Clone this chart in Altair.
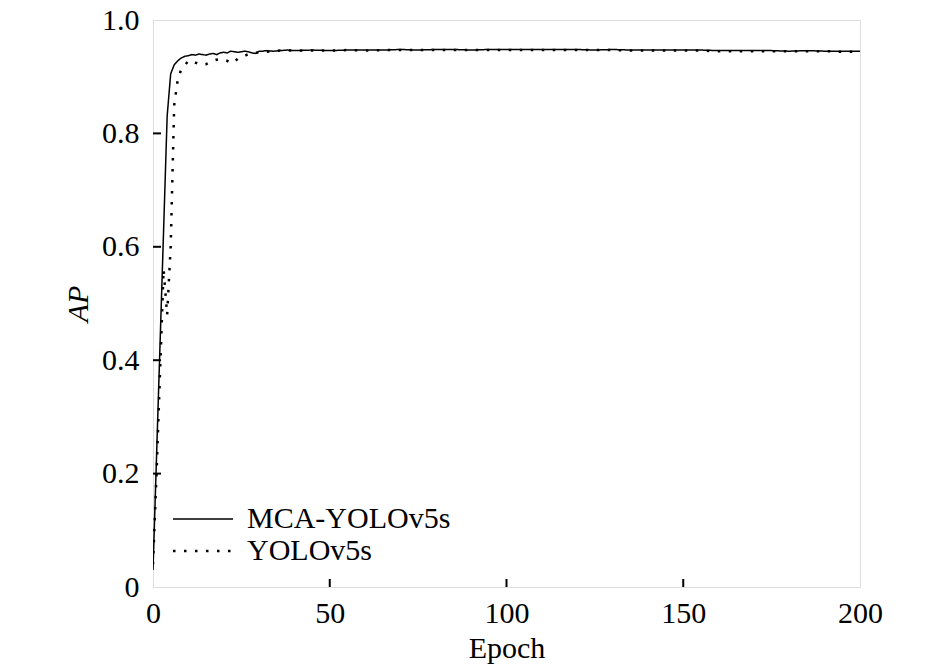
import altair as alt
import pandas as pd

names = ["MCA-YOLOv5s", "YOLOv5s"]

mca_epoch = [0, 1, 2, 3, 4, 5, 6, 7, 8, 9, 10, 11, 12, 13, 14, 15, 16, 17, 18, 19,
             20, 21, 22, 23, 24, 25, 26, 27, 28, 29, 30, 31, 32, 34, 36, 38, 40, 45,
             50, 55, 60, 65, 70, 75, 80, 85, 90, 95, 100, 105, 110, 115, 120, 125,
             130, 135, 140, 145, 150, 155, 160, 165, 170, 175, 180, 185, 190, 195, 200]
mca_ap = [0.03, 0.23, 0.43, 0.63, 0.83, 0.905, 0.921, 0.928, 0.933, 0.936, 0.937, 0.939,
          0.938, 0.940, 0.939, 0.938, 0.940, 0.941, 0.939, 0.942, 0.943, 0.942, 0.945,
          0.944, 0.943, 0.944, 0.945, 0.944, 0.942, 0.941, 0.945, 0.945, 0.946, 0.945,
          0.946, 0.947, 0.946, 0.947, 0.946, 0.947, 0.947, 0.947, 0.948, 0.947, 0.948,
          0.948, 0.947, 0.948, 0.948, 0.948, 0.948, 0.948, 0.948, 0.947, 0.948, 0.947,
          0.947, 0.947, 0.947, 0.947, 0.946, 0.946, 0.946, 0.946, 0.945, 0.946, 0.945,
          0.945, 0.945]

yolo_epoch = [0, 1, 2, 3, 4, 5, 6, 7, 8, 9, 10, 11, 12, 13, 14, 15, 16, 17, 18, 19,
              20, 21, 22, 23, 24, 25, 26, 27, 28, 29, 30, 32, 34, 36, 38, 40, 45,
              50, 55, 60, 65, 70, 75, 80, 85, 90, 95, 100, 105, 110, 115, 120, 125,
              130, 135, 140, 145, 150, 155, 160, 165, 170, 175, 180, 185, 190, 195, 200]
yolo_ap = [0.04, 0.20, 0.38, 0.56, 0.48, 0.60, 0.85, 0.895, 0.913, 0.920, 0.928, 0.928,
           0.925, 0.922, 0.921, 0.922, 0.925, 0.928, 0.930, 0.931, 0.930, 0.928, 0.924,
           0.926, 0.932, 0.935, 0.937, 0.940, 0.941, 0.942, 0.943, 0.944, 0.945, 0.946,
           0.946, 0.946, 0.946, 0.946, 0.947, 0.946, 0.947, 0.947, 0.947, 0.947, 0.947,
           0.947, 0.947, 0.947, 0.947, 0.947, 0.947, 0.947, 0.947, 0.947, 0.946, 0.946,
           0.946, 0.946, 0.946, 0.945, 0.945, 0.945, 0.945, 0.945, 0.945, 0.945, 0.944,
           0.944]

x_ticks = [0, 50, 100, 150, 200]
y_ticks = [0, 0.2, 0.4, 0.6, 0.8, 1.0]

df = pd.concat([
    pd.DataFrame({"Epoch": mca_epoch, "AP": mca_ap, "model": names[0]}),
    pd.DataFrame({"Epoch": yolo_epoch, "AP": yolo_ap, "model": names[1]}),
])

FONT = "Liberation Serif"
W, H = 707, 567

xscale = alt.Scale(domain=[0, 200], nice=False)
yscale = alt.Scale(domain=[0, 1], nice=False)

legend_kw = dict(title=None, orient="none", legendX=35, legendY=484,
                 symbolType="M-3,0H3", symbolSize=400,
                 symbolStrokeColor="black",
                 labelFont=FONT, labelFontSize=30, labelLimit=500,
                 labelColor="black", labelOffset=29,
                 padding=0, rowPadding=2)

lines = alt.Chart(df).mark_line(color="black", strokeCap="butt", clip=True).encode(
    x=alt.X("Epoch:Q", scale=xscale,
            axis=alt.Axis(values=x_ticks, ticks=False, domain=False, grid=False,
                          labelFont=FONT, labelFontSize=30, labelColor="black",
                          labelPadding=11, labelFlush=False,
                          title="Epoch", titleFont=FONT, titleFontSize=30,
                          titleFontWeight="normal", titleColor="black", titlePadding=5)),
    y=alt.Y("AP:Q", scale=yscale,
            axis=alt.Axis(values=y_ticks, ticks=False, domain=False, grid=False,
                          labelFont=FONT, labelFontSize=30, labelColor="black",
                          labelPadding=14, labelFlush=False,
                          labelExpr="datum.value == 0 ? '0' : format(datum.value, '.1f')",
                          title="AP", titleFont=FONT, titleFontSize=30,
                          titleFontStyle="italic", titleFontWeight="normal",
                          titleColor="black", titlePadding=8)),
    strokeDash=alt.StrokeDash("model:N",
                              scale=alt.Scale(domain=names, range=[[1, 0], [2.5, 8.5]]),
                              legend=alt.Legend(**legend_kw)),
    strokeWidth=alt.StrokeWidth("model:N",
                                scale=alt.Scale(domain=names, range=[1.5, 2.5]),
                                legend=alt.Legend(**legend_kw)),
)

xt = alt.Chart(pd.DataFrame({"v": x_ticks[1:-1]})).mark_rule(color="black", strokeWidth=2).encode(
    x=alt.X("v:Q", scale=xscale), y=alt.value(H), y2=alt.value(H - 8))
yt = alt.Chart(pd.DataFrame({"v": y_ticks[1:-1]})).mark_rule(color="black", strokeWidth=2).encode(
    y=alt.Y("v:Q", scale=yscale), x=alt.value(0), x2=alt.value(8))

chart = alt.layer(lines, xt, yt).properties(
    width=W, height=H,
    autosize=alt.AutoSizeParams(type="none"),
    padding={"left": 145, "top": 12, "right": 60, "bottom": 78},
).configure_view(stroke="black", strokeWidth=2.5).configure(background="white")

chart.save("out.html", embed_options={"renderer": "svg", "actions": False})
